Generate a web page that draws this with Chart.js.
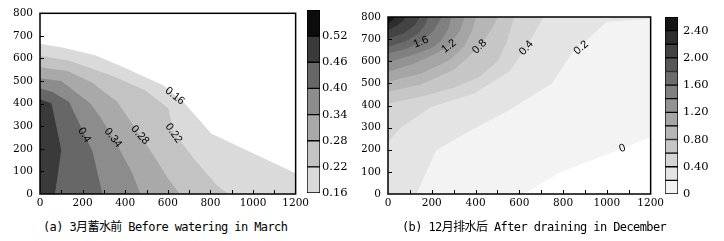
<!DOCTYPE html>
<html>
<head>
<meta charset="utf-8">
<script src="https://cdn.jsdelivr.net/npm/chart.js@4.4.1/dist/chart.umd.min.js"></script>
<style>
    body { margin: 0; width: 724px; height: 241px; background: #fff; position: relative; overflow: hidden; }
    canvas { position: absolute; top: 0; }
    #plotA { left: 0; }
    #barA { left: 300px; }
    #plotB { left: 362px; }
    #barB { left: 660px; }
    .caption { position: absolute; top: 219px; font: 12px "DejaVu Sans Mono", "Noto Sans CJK SC", monospace; letter-spacing: -0.6px; color: #000; white-space: nowrap; line-height: 16px; }
</style>
</head>
<body>
<canvas id="plotA" width="312" height="216"></canvas>
<canvas id="barA" width="60" height="216"></canvas>
<canvas id="plotB" width="305" height="216"></canvas>
<canvas id="barB" width="64" height="216"></canvas>
<div class="caption" style="left:43px">(a) 3月蓄水前 Before watering in March</div>
<div class="caption" style="left:402px">(b) 12月排水后 After draining in December</div>
<script>
// axis marks every 100, labels on x every 200
const xMarks = [0, 100, 200, 300, 400, 500, 600, 700, 800, 900, 1000, 1100, 1200];
const xLabels = [0, 200, 400, 600, 800, 1000, 1200];
const yMarks = [0, 100, 200, 300, 400, 500, 600, 700, 800];

// (a) March contours [x, y], lowest level first
const a016 = [[0, 665], [106, 649], [262, 613], [400, 558], [580, 480], [673, 407], [805, 267], [1000, 180], [1200, 92]];
const a022 = [[0, 612], [137, 590], [339, 524], [495, 458], [603, 378], [627, 272], [735, 142], [829, 40], [884, 0]];
const a028 = [[0, 561], [130, 545], [246, 492], [363, 407], [469, 261], [540, 160], [600, 70], [656, 0]];
const a034 = [[0, 513], [100, 500], [238, 400], [290, 330], [343, 249], [400, 150], [432, 95], [471, 0]];
const a040 = [[0, 468], [60, 450], [137, 407], [208, 265], [247, 187], [293, 0]];
const a046 = [[0, 420], [54, 401], [100, 195], [70, 0]];
const edgesA = [0.16, 0.22, 0.28, 0.34, 0.40, 0.46, 0.52, 0.58];
const barTicksA = [0.16, 0.22, 0.28, 0.34, 0.40, 0.46, 0.52];
const textA = [['0.16', 633, 434, 38], ['0.22', 627, 269, 55], ['0.28', 469, 261, 48], ['0.34', 343, 249, 52], ['0.4', 208, 261, 58]];

// (b) December contours, 0 to 2.4 step 0.2
const b00 = [[620, 0], [790, 100], [1071, 206], [1200, 258]];
const b02 = [[130, 0], [221, 199], [394, 296], [553, 379], [749, 500], [839, 635], [1000, 778], [1200, 792]];
const b04 = [[0, 235], [63, 304], [199, 394], [394, 454], [553, 552], [632, 660], [710, 800]];
const b06 = [[0, 409], [150, 440], [300, 480], [420, 530], [500, 600], [540, 680], [577, 800]];
const b08 = [[0, 462], [150, 495], [300, 560], [418, 666], [470, 740], [502, 800]];
const b10 = [[0, 507], [150, 545], [280, 605], [348, 667], [385, 740], [403, 800]];
const b12 = [[0, 552], [120, 590], [220, 635], [278, 668], [330, 740], [350, 800]];
const b14 = [[0, 597], [100, 625], [200, 660], [240, 690], [275, 745], [290, 800]];
const b16 = [[0, 635], [80, 655], [151, 687], [210, 740], [245, 800]];
const b18 = [[0, 665], [80, 690], [140, 725], [170, 765], [184, 800]];
const b20 = [[0, 703], [70, 725], [120, 760], [146, 800]];
const b22 = [[0, 740], [40, 760], [70, 785], [78, 800]];
const b24 = [[0, 770], [20, 785], [32, 800]];
const edgesB = [0, 0.2, 0.4, 0.6, 0.8, 1.0, 1.2, 1.4, 1.6, 1.8, 2.0, 2.2, 2.4, 2.6];
const barTicksB = [0, 0.4, 0.8, 1.2, 1.6, 2.0, 2.4];
const textB = [['1.6', 151, 687, -22], ['1.2', 278, 668, -38], ['0.8', 418, 666, -45], ['0.4', 632, 660, -48], ['0.2', 882, 661, -40], ['0', 1071, 206, -20]];

// grey shades, one per band
const shadesA = ['#dadada', '#c3c3c3', '#a9a9a9', '#8c8c8c', '#676767', '#3a3a3a', '#0c0c0c'];
const shadesB = ['#f3f3f3', '#e4e4e4', '#d5d5d5', '#c6c6c6', '#b6b6b6', '#a5a5a5', '#939393', '#808080', '#6c6c6c', '#585858', '#434343', '#2d2d2d', '#151515'];

const tickFont = { family: '"DejaVu Serif", serif', size: 10.5 };
const barFont = { family: '"DejaVu Serif", serif', size: 11.5 };

class ContourPanels {

    static xMax = 1200
    static yMax = 800

    // turn a contour line into a closed region using the plot corners
    static toRegion = (line, side) => {
        let pts = line.map(([x, y]) => ({ x, y }));
        const first = pts[0];
        const last = pts[pts.length - 1];
        if (side === 'below') {
            if (last.x === this.xMax && last.y > 0) pts.push({ x: this.xMax, y: 0 });
            pts.push({ x: 0, y: 0 });
        } else {
            if (first.x > 0) pts.unshift({ x: 0, y: 0 });
            if (last.y < this.yMax) pts.push({ x: this.xMax, y: this.yMax });
            pts.push({ x: 0, y: this.yMax });
        }
        return pts;
    }
    static regionSets = (lines, shades, side) => lines.map((line, i) => ({
        data: this.toRegion(line, side),
        fill: 'shape',
        backgroundColor: shades[i],
        borderColor: 'rgba(0,0,0,0)',
        borderWidth: 1,
        pointRadius: 0,
        tension: 0,
        order: lines.length - i
    }))
    // contour values written along the lines
    static contourText = (labels) => ({
        id: 'contourText',
        afterDatasetsDraw: (chart) => {
            const { ctx, scales: { x, y } } = chart;
            ctx.save();
            ctx.font = '11px "Liberation Sans", sans-serif';
            ctx.fillStyle = '#000';
            ctx.textAlign = 'center';
            ctx.textBaseline = 'middle';
            labels.forEach(([text, vx, vy, deg]) => {
                ctx.save();
                ctx.translate(x.getPixelForValue(vx), y.getPixelForValue(vy));
                ctx.rotate(deg * Math.PI / 180);
                ctx.fillText(text, 0, 0);
                ctx.restore();
            });
            ctx.restore();
        }
    })
    // box round the plot and inward tick marks
    static frame = {
        id: 'frame',
        afterDatasetsDraw: (chart) => {
            const { ctx, chartArea: a, scales: { x, y } } = chart;
            ctx.save();
            ctx.strokeStyle = '#000';
            ctx.lineWidth = 1;
            ctx.beginPath();
            xMarks.slice(1, -1).forEach(v => {
                const px = Math.round(x.getPixelForValue(v)) + 0.5;
                ctx.moveTo(px, a.bottom);
                ctx.lineTo(px, a.bottom - 4);
            });
            yMarks.slice(1, -1).forEach(v => {
                const py = Math.round(y.getPixelForValue(v)) + 0.5;
                ctx.moveTo(a.left, py);
                ctx.lineTo(a.left + 4, py);
            });
            ctx.stroke();
            ctx.lineWidth = 1.5;
            ctx.strokeRect(a.left, a.top, a.right - a.left, a.bottom - a.top);
            ctx.restore();
        }
    }
    static plot = (id, lines, shades, side, labels, padding, yWidth) => new Chart(document.getElementById(id), {
        type: 'line',
        data: { datasets: this.regionSets(lines, shades, side) },
        options: {
            responsive: false,
            animation: false,
            events: [],
            layout: { padding: padding },
            plugins: { legend: { display: false }, tooltip: { enabled: false } },
            scales: {
                x: {
                    type: 'linear', min: 0, max: this.xMax,
                    afterBuildTicks: s => { s.ticks = xMarks.map(v => ({ value: v })); },
                    afterFit: s => { s.height = 22; },
                    ticks: {
                        autoSkip: false, maxRotation: 0, padding: 3, color: '#000', font: tickFont,
                        callback: v => xLabels.includes(v) ? String(v) : ''
                    },
                    grid: { display: false, drawTicks: false },
                    border: { display: false }
                },
                y: {
                    type: 'linear', min: 0, max: this.yMax,
                    afterBuildTicks: s => { s.ticks = yMarks.map(v => ({ value: v })); },
                    afterFit: s => { s.width = yWidth; },
                    ticks: { padding: 7, color: '#000', font: tickFont, callback: v => String(v) },
                    grid: { display: false, drawTicks: false },
                    border: { display: false }
                }
            }
        },
        plugins: [this.contourText(labels), this.frame]
    })
    static colorbar = (id, edges, ticks, shades, padding, axisWidth, labelPad) => new Chart(document.getElementById(id), {
        type: 'bar',
        data: {
            labels: [''],
            datasets: shades.map((c, i) => ({
                data: [[edges[i], edges[i + 1]]],
                backgroundColor: c,
                borderColor: '#000',
                borderWidth: 1,
                borderSkipped: false,
                barPercentage: 1,
                categoryPercentage: 1,
                grouped: false
            }))
        },
        options: {
            responsive: false,
            animation: false,
            events: [],
            layout: { padding: padding },
            plugins: { legend: { display: false }, tooltip: { enabled: false } },
            scales: {
                x: { display: false },
                y: {
                    position: 'right', min: edges[0], max: edges[edges.length - 1],
                    afterBuildTicks: s => { s.ticks = ticks.map(v => ({ value: v })); },
                    afterFit: s => { s.width = axisWidth; },
                    ticks: { padding: labelPad, color: '#000', font: barFont, callback: v => v === 0 ? '0' : v.toFixed(2) },
                    grid: { display: false, drawTicks: false },
                    border: { display: false }
                }
            }
        }
    })
    static init = () => {
        this.plot('plotA', [a016, a022, a028, a034, a040, a046], shadesA, 'below', textA,
            { left: 0, top: 12, right: 14, bottom: 0 }, 40);
        this.colorbar('barA', edgesA, barTicksA, shadesA, { left: 7, top: 10, right: 0, bottom: 23 }, 40, 2);
        this.plot('plotB', [b00, b02, b04, b06, b08, b10, b12, b14, b16, b18, b20, b22, b24], shadesB, 'above', textB,
            { left: 0, top: 17, right: 14, bottom: 0 }, 26);
        this.colorbar('barB', edgesB, barTicksB, shadesB, { left: 5, top: 17, right: 0, bottom: 22 }, 46, 5);
    }
}

ContourPanels.init();
</script>
</body>
</html>
